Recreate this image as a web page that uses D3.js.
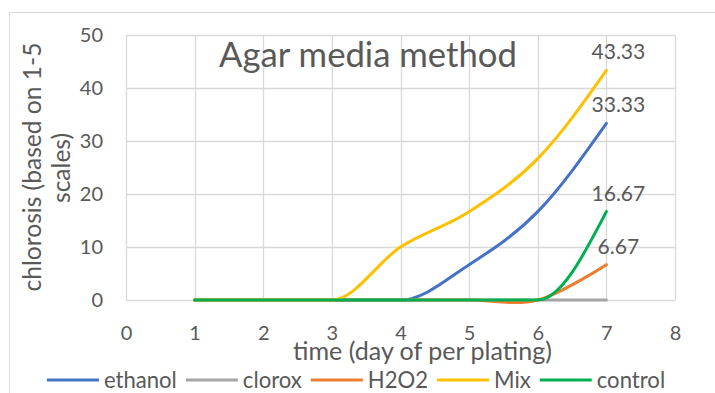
<!DOCTYPE html>
<html><head><meta charset="utf-8">
<script src="https://cdn.jsdelivr.net/npm/d3@7"></script>
<style>body{margin:0;background:#fff}svg{display:block}text{font-family:Lato,"Open Sans",sans-serif;fill:#595959}</style>
</head><body>
<script>
const days = [1,2,3,4,5,6,7];
const ethanol = [0,0,0,0,6.67,16.67,33.33];
const clorox  = [0,0,0,0,0,0,0];
const h2o2    = [0,0,0,0,0,0,6.67];
const mix     = [0,0,0,10,16.67,26.67,43.33];
const control = [0,0,0,0,0,0,16.67];
const seriesNames = ["ethanol","clorox","H2O2","Mix","control"];
const seriesColors = ["#4472C4","#A5A5A5","#ED7D31","#FFC000","#00B050"];
const xTicks = [0,1,2,3,4,5,6,7,8];
const yTicks = [0,10,20,30,40,50];
const title = "Agar media method";
const xTitle = "time (day of per plating)";
const yTitle = ["chlorosis (based on 1-5","scales)"];

const W=715,H=393;
const svg=d3.select("body").append("svg").attr("width",W).attr("height",H);
svg.append("rect").attr("x",9.5).attr("y",12.5).attr("width",720).attr("height",400).attr("fill","#fff").attr("stroke","#d9d9d9");

const x=d3.scaleLinear().domain([0,8]).range([126,675]);
const y=d3.scaleLinear().domain([0,50]).range([300,35]);

function fit(sel, target){
  const base=parseFloat(sel.attr("font-size"));
  const w=sel.node().getComputedTextLength();
  const fs=base*target/w;
  sel.attr("font-size",fs);
  return fs;
}

const g=svg.append("g");
g.selectAll(".hg").data(yTicks).join("line").attr("x1",x(0)).attr("x2",x(8)).attr("y1",d=>Math.round(y(d))+0.5).attr("y2",d=>Math.round(y(d))+0.5).attr("stroke","#d9d9d9").attr("stroke-width",1.3);
g.selectAll(".vg").data(xTicks).join("line").attr("y1",y(0)).attr("y2",y(50)).attr("x1",d=>Math.round(x(d))+0.5).attr("x2",d=>Math.round(x(d))+0.5).attr("stroke","#d9d9d9").attr("stroke-width",1.3);

// axes
const ya=d3.axisLeft(y).tickValues(yTicks).tickSize(0).tickPadding(23);
const yg=svg.append("g").attr("transform",`translate(${x(0)},0)`).call(ya);
yg.select(".domain").remove();
yg.selectAll("text").attr("font-size",20).style("fill","#595959").attr("font-family","Lato");
const xa=d3.axisBottom(x).tickValues(xTicks).tickSize(0).tickPadding(40);
const xg=svg.append("g").attr("transform",`translate(0,${y(0)})`).call(xa);
xg.select(".domain").remove();
xg.selectAll("text").attr("font-size",20).attr("dy",0).style("fill","#595959").attr("font-family","Lato");

const data=[ethanol,clorox,h2o2,mix,control];
const curves=[d3.curveMonotoneX,d3.curveMonotoneX,d3.curveCatmullRom.alpha(0),d3.curveMonotoneX,d3.curveMonotoneX];
data.forEach((s,k)=>{
  const line=d3.line().x((d,i)=>x(days[i])).y(d=>y(d)).curve(curves[k]);
  svg.append("path").datum(s).attr("d",line).attr("fill","none").attr("stroke",seriesColors[k]).attr("stroke-width",3).attr("stroke-linecap","round");
});

// data labels at last point
const labelSeries=[mix,ethanol,control,h2o2];
let lfs=null;
labelSeries.forEach((s,i)=>{
  const v=s[s.length-1];
  const t=svg.append("text").attr("x",x(7)+12).attr("y",y(v)-11).attr("text-anchor","middle").attr("font-size",lfs||20).text(v.toFixed(2));
  if(i===0) lfs=fit(t,54);
});

const tt=svg.append("text").attr("x",368).attr("y",67).attr("text-anchor","middle").attr("font-size",30).text(title);
fit(tt,298);
const xt=svg.append("text").attr("x",422.5).attr("y",360).attr("text-anchor","middle").attr("font-size",22).text(xTitle);
fit(xt,259);
const yt=svg.append("text").attr("transform","rotate(-90)").attr("text-anchor","middle").attr("font-size",22);
const t1=yt.append("tspan").attr("x",-167).attr("y",41).text(yTitle[0]);
yt.append("tspan").attr("x",-168).attr("y",70).text(yTitle[1]);
{ const w=t1.node().getComputedTextLength(); yt.attr("font-size",22*249/w); }

// legend
const lg=svg.append("g");
let cx=0;
const probe=lg.append("text").attr("font-size",20).text(seriesNames[0]);
const legFs=fit(probe,73); probe.remove();
seriesNames.forEach((n,k)=>{
  const it=lg.append("g").attr("transform",`translate(${cx},0)`);
  it.append("line").attr("x1",0).attr("x2",52).attr("y1",0).attr("y2",0).attr("stroke",seriesColors[k]).attr("stroke-width",3);
  const t=it.append("text").attr("x",57).attr("y",7.5).attr("font-size",legFs).text(n);
  cx+=57+t.node().getComputedTextLength()+9;
});
const tw=cx-9;
lg.attr("transform",`translate(${356-tw/2},380)`);
</script>
</body></html>
